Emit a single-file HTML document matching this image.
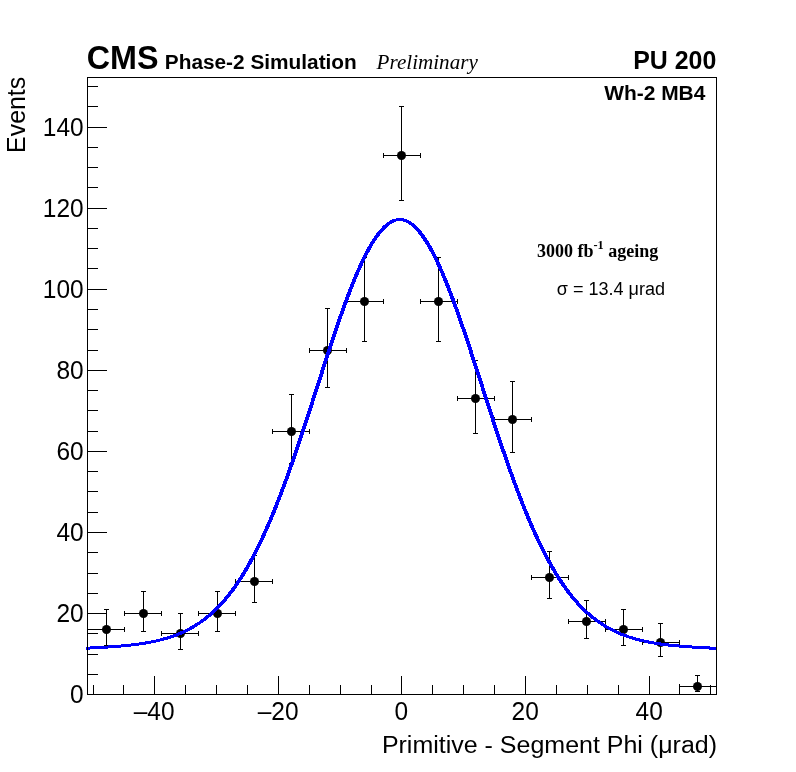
<!DOCTYPE html>
<html><head><meta charset="utf-8"><title>plot</title>
<style>html,body{margin:0;padding:0;background:#fff;}svg{display:block;will-change:transform;}text{font-family:"Liberation Sans",sans-serif;fill:#000;}</style>
</head><body>
<svg width="796" height="772" viewBox="0 0 796 772">
<rect x="0" y="0" width="796" height="772" fill="#ffffff"/>
<defs><clipPath id="fr"><rect x="86" y="78" width="631" height="617"/></clipPath></defs>
<g clip-path="url(#fr)">
<g stroke="#000" stroke-width="1" fill="none" shape-rendering="crispEdges">
<path d="M106.5 609.5V645.5M104.0 609.5H109.0M104.0 645.5H109.0M87.5 629.5H124.5M87.5 627.0V632.0M124.5 627.0V632.0"/>
<path d="M143.5 591.5V631.5M141.0 591.5H146.0M141.0 631.5H146.0M124.5 613.5H161.5M124.5 611.0V616.0M161.5 611.0V616.0"/>
<path d="M180.5 613.5V649.5M178.0 613.5H183.0M178.0 649.5H183.0M161.5 633.5H198.5M161.5 631.0V636.0M198.5 631.0V636.0"/>
<path d="M217.5 591.5V631.5M215.0 591.5H220.0M215.0 631.5H220.0M198.5 613.5H235.5M198.5 611.0V616.0M235.5 611.0V616.0"/>
<path d="M254.5 555.5V602.5M252.0 555.5H257.0M252.0 602.5H257.0M235.5 581.5H272.5M235.5 579.0V584.0M272.5 579.0V584.0"/>
<path d="M291.5 394.5V463.5M289.0 394.5H294.0M289.0 463.5H294.0M272.5 431.5H309.5M272.5 429.0V434.0M309.5 429.0V434.0"/>
<path d="M327.5 308.5V387.5M325.0 308.5H330.0M325.0 387.5H330.0M309.5 350.5H346.5M309.5 348.0V353.0M346.5 348.0V353.0"/>
<path d="M364.5 257.5V341.5M362.0 257.5H367.0M362.0 341.5H367.0M346.5 301.5H383.5M346.5 299.0V304.0M383.5 299.0V304.0"/>
<path d="M401.5 106.5V200.5M399.0 106.5H404.0M399.0 200.5H404.0M383.5 155.5H420.5M383.5 153.0V158.0M420.5 153.0V158.0"/>
<path d="M438.5 257.5V341.5M436.0 257.5H441.0M436.0 341.5H441.0M420.5 301.5H457.5M420.5 299.0V304.0M457.5 299.0V304.0"/>
<path d="M475.5 360.5V433.5M473.0 360.5H478.0M473.0 433.5H478.0M457.5 398.5H494.5M457.5 396.0V401.0M494.5 396.0V401.0"/>
<path d="M512.5 381.5V452.5M510.0 381.5H515.0M510.0 452.5H515.0M494.5 419.5H531.5M494.5 417.0V422.0M531.5 417.0V422.0"/>
<path d="M549.5 551.5V598.5M547.0 551.5H552.0M547.0 598.5H552.0M531.5 577.5H568.5M531.5 575.0V580.0M568.5 575.0V580.0"/>
<path d="M586.5 600.5V638.5M584.0 600.5H589.0M584.0 638.5H589.0M568.5 621.5H605.5M568.5 619.0V624.0M605.5 619.0V624.0"/>
<path d="M623.5 609.5V645.5M621.0 609.5H626.0M621.0 645.5H626.0M605.5 629.5H642.5M605.5 627.0V632.0M642.5 627.0V632.0"/>
<path d="M660.5 623.5V656.5M658.0 623.5H663.0M658.0 656.5H663.0M642.5 642.5H679.5M642.5 640.0V645.0M679.5 640.0V645.0"/>
<path d="M697.5 675.5V691.5M695.0 675.5H700.0M695.0 691.5H700.0M679.5 686.5H716.5M679.5 684.0V689.0M716.5 684.0V689.0"/>
</g>
<g fill="#000">
<circle cx="106.5" cy="629.5" r="4.5"/>
<circle cx="143.5" cy="613.5" r="4.5"/>
<circle cx="180.5" cy="633.5" r="4.5"/>
<circle cx="217.5" cy="613.5" r="4.5"/>
<circle cx="254.5" cy="581.5" r="4.5"/>
<circle cx="291.5" cy="431.5" r="4.5"/>
<circle cx="327.5" cy="350.5" r="4.5"/>
<circle cx="364.5" cy="301.5" r="4.5"/>
<circle cx="401.5" cy="155.5" r="4.5"/>
<circle cx="438.5" cy="301.5" r="4.5"/>
<circle cx="475.5" cy="398.5" r="4.5"/>
<circle cx="512.5" cy="419.5" r="4.5"/>
<circle cx="549.5" cy="577.5" r="4.5"/>
<circle cx="586.5" cy="621.5" r="4.5"/>
<circle cx="623.5" cy="629.5" r="4.5"/>
<circle cx="660.5" cy="642.5" r="4.5"/>
<circle cx="697.5" cy="686.5" r="4.5"/>
</g>
<g stroke="#0000ff" stroke-width="3" fill="none" stroke-linejoin="round" shape-rendering="crispEdges"><path d="M85.10 648.24 L88.18 648.09 L91.26 647.94 L94.35 647.79 L97.43 647.63 L100.51 647.46 L103.59 647.27 L106.68 647.08 L109.76 646.88 L112.84 646.66 L115.92 646.43 L119.01 646.18 L122.09 645.91 L125.17 645.62 L128.25 645.30 L131.34 644.96 L134.42 644.60 L137.50 644.20 L140.58 643.76 L143.67 643.29 L146.75 642.77 L149.83 642.22 L152.91 641.61 L156.00 640.94 L159.08 640.22 L162.16 639.44 L165.24 638.58 L168.33 637.66 L171.41 636.65 L174.49 635.56 L177.57 634.37 L180.66 633.09 L183.74 631.69 L186.82 630.19 L189.90 628.57 L192.99 626.82 L196.07 624.93 L199.15 622.90 L202.23 620.72 L205.32 618.38 L208.40 615.87 L211.48 613.18 L214.56 610.31 L217.65 607.25 L220.73 603.99 L223.81 600.53 L226.89 596.84 L229.98 592.94 L233.06 588.81 L236.14 584.44 L239.22 579.83 L242.31 574.97 L245.39 569.86 L248.47 564.50 L251.55 558.88 L254.64 553.01 L257.72 546.87 L260.80 540.47 L263.88 533.81 L266.97 526.89 L270.05 519.73 L273.13 512.31 L276.21 504.65 L279.30 496.75 L282.38 488.63 L285.46 480.30 L288.54 471.76 L291.63 463.03 L294.71 454.13 L297.79 445.07 L300.87 435.87 L303.96 426.55 L307.04 417.12 L310.12 407.62 L313.20 398.07 L316.29 388.49 L319.37 378.90 L322.45 369.34 L325.53 359.82 L328.62 350.39 L331.70 341.06 L334.78 331.87 L337.86 322.85 L340.95 314.02 L344.03 305.42 L347.11 297.08 L350.19 289.02 L353.28 281.29 L356.36 273.89 L359.44 266.87 L362.52 260.24 L365.61 254.04 L368.69 248.29 L371.77 243.01 L374.85 238.22 L377.94 233.94 L381.02 230.19 L384.10 226.98 L387.18 224.33 L390.27 222.24 L393.35 220.73 L396.43 219.81 L399.51 219.46 L402.60 219.71 L405.68 220.54 L408.76 221.95 L411.84 223.95 L414.93 226.50 L418.01 229.62 L421.09 233.29 L424.17 237.48 L427.26 242.19 L430.34 247.39 L433.42 253.06 L436.50 259.19 L439.59 265.75 L442.67 272.71 L445.75 280.04 L448.83 287.72 L451.92 295.73 L455.00 304.02 L458.08 312.58 L461.16 321.37 L464.25 330.37 L467.33 339.53 L470.41 348.84 L473.49 358.26 L476.58 367.76 L479.66 377.32 L482.74 386.90 L485.82 396.49 L488.91 406.05 L491.99 415.56 L495.07 425.00 L498.15 434.34 L501.24 443.56 L504.32 452.64 L507.40 461.57 L510.48 470.33 L513.57 478.90 L516.65 487.27 L519.73 495.43 L522.81 503.36 L525.90 511.06 L528.98 518.52 L532.06 525.73 L535.14 532.69 L538.23 539.39 L541.31 545.83 L544.39 552.01 L547.47 557.93 L550.56 563.59 L553.64 569.00 L556.72 574.14 L559.80 579.04 L562.89 583.69 L565.97 588.10 L569.05 592.27 L572.13 596.22 L575.22 599.93 L578.30 603.44 L581.38 606.73 L584.46 609.82 L587.55 612.72 L590.63 615.44 L593.71 617.97 L596.79 620.34 L599.88 622.55 L602.96 624.60 L606.04 626.51 L609.12 628.29 L612.21 629.93 L615.29 631.45 L618.37 632.86 L621.45 634.17 L624.54 635.37 L627.62 636.48 L630.70 637.50 L633.78 638.44 L636.87 639.30 L639.95 640.10 L643.03 640.83 L646.11 641.50 L649.20 642.12 L652.28 642.69 L655.36 643.21 L658.44 643.69 L661.53 644.13 L664.61 644.53 L667.69 644.90 L670.77 645.25 L673.86 645.57 L676.94 645.86 L680.02 646.13 L683.10 646.39 L686.19 646.62 L689.27 646.84 L692.35 647.05 L695.43 647.24 L698.52 647.43 L701.60 647.60 L704.68 647.76 L707.76 647.92 L710.85 648.07 L713.93 648.21 L717.01 648.35"/><path d="M85.14 648.24 L88.22 648.09 L91.31 647.94 L94.39 647.79 L97.48 647.63 L100.56 647.46 L103.65 647.27 L106.73 647.08 L109.82 646.88 L112.90 646.66 L115.99 646.43 L119.08 646.18 L122.17 645.91 L125.25 645.62 L128.34 645.30 L131.43 644.96 L134.52 644.60 L137.62 644.20 L140.71 643.76 L143.80 643.29 L146.90 642.77 L149.99 642.22 L153.09 641.61 L156.19 640.94 L159.29 640.22 L162.39 639.44 L165.49 638.58 L168.59 637.66 L171.70 636.65 L174.81 635.56 L177.91 634.37 L181.03 633.09 L184.14 631.69 L187.25 630.19 L190.37 628.57 L193.49 626.82 L196.61 624.93 L199.73 622.90 L202.86 620.72 L205.99 618.38 L209.11 615.87 L212.25 613.18 L215.38 610.31 L218.50 607.25 L221.58 603.99 L224.66 600.53 L227.74 596.84 L230.83 592.94 L233.91 588.81 L236.99 584.44 L240.07 579.83 L243.16 574.97 L246.24 569.86 L249.32 564.50 L252.40 558.88 L255.49 553.01 L258.57 546.87 L261.65 540.47 L264.73 533.81 L267.82 526.89 L270.90 519.73 L273.98 512.31 L277.06 504.65 L280.15 496.75 L283.23 488.63 L286.31 480.30 L289.39 471.76 L292.48 463.03 L295.56 454.13 L298.64 445.07 L301.72 435.87 L304.81 426.55 L307.89 417.12 L310.97 407.62 L314.05 398.07 L317.14 388.49 L320.22 378.90 L323.30 369.34 L326.38 359.82 L329.47 350.39 L332.55 341.06 L335.63 331.87 L338.71 322.85 L341.80 314.02 L344.88 305.42 L347.96 297.08 L351.04 289.02 L354.13 281.29 L357.21 273.89 L360.29 266.87 L363.37 260.24 L366.46 254.04 L369.54 248.29 L372.62 243.01 L375.70 238.22 L378.79 233.94 L381.87 230.19 L384.91 226.98 L387.84 224.33 L390.76 222.24 L393.69 220.73 L396.61 219.81 L399.53 219.46 L402.45 219.71 L405.37 220.54 L408.29 221.95 L411.22 223.95 L414.14 226.50 L417.16 229.62 L420.24 233.29 L423.32 237.48 L426.41 242.19 L429.49 247.39 L432.57 253.06 L435.65 259.19 L438.74 265.75 L441.82 272.71 L444.90 280.04 L447.98 287.72 L451.07 295.73 L454.15 304.02 L457.23 312.58 L460.31 321.37 L463.40 330.37 L466.48 339.53 L469.56 348.84 L472.64 358.26 L475.73 367.76 L478.81 377.32 L481.89 386.90 L484.97 396.49 L488.06 406.05 L491.14 415.56 L494.22 425.00 L497.30 434.34 L500.39 443.56 L503.47 452.64 L506.55 461.57 L509.63 470.33 L512.72 478.90 L515.80 487.27 L518.88 495.43 L521.96 503.36 L525.05 511.06 L528.13 518.52 L531.21 525.73 L534.29 532.69 L537.38 539.39 L540.46 545.83 L543.54 552.01 L546.62 557.93 L549.71 563.59 L552.79 569.00 L555.87 574.14 L558.95 579.04 L562.04 583.69 L565.12 588.10 L568.20 592.27 L571.28 596.22 L574.37 599.93 L577.45 603.44 L580.53 606.73 L583.64 609.82 L586.77 612.72 L589.90 615.44 L593.04 617.97 L596.16 620.34 L599.29 622.55 L602.41 624.60 L605.53 626.51 L608.65 628.29 L611.77 629.93 L614.88 631.45 L618.00 632.86 L621.11 634.17 L624.22 635.37 L627.33 636.48 L630.43 637.50 L633.54 638.44 L636.64 639.30 L639.74 640.10 L642.84 640.83 L645.94 641.50 L649.03 642.12 L652.13 642.69 L655.22 643.21 L658.32 643.69 L661.41 644.13 L664.50 644.53 L667.59 644.90 L670.68 645.25 L673.77 645.57 L676.86 645.86 L679.95 646.13 L683.04 646.39 L686.12 646.62 L689.21 646.84 L692.30 647.05 L695.38 647.24 L698.47 647.43 L701.55 647.60 L704.64 647.76 L707.72 647.92 L710.81 648.07 L713.89 648.21 L716.97 648.35"/></g>
</g>
<g stroke="#000" stroke-width="1" fill="none" shape-rendering="crispEdges">
<rect x="87.5" y="77.5" width="629.0" height="617.0"/>
<path d="M93.5 694.5V685.0M123.5 694.5V685.0M154.5 694.5V676.0M185.5 694.5V685.0M216.5 694.5V685.0M247.5 694.5V685.0M278.5 694.5V676.0M309.5 694.5V685.0M340.5 694.5V685.0M371.5 694.5V685.0M401.5 694.5V676.0M432.5 694.5V685.0M463.5 694.5V685.0M494.5 694.5V685.0M525.5 694.5V676.0M556.5 694.5V685.0M587.5 694.5V685.0M618.5 694.5V685.0M649.5 694.5V676.0M679.5 694.5V685.0M710.5 694.5V685.0M87.5 694.5H107.0M87.5 674.5H98.0M87.5 654.5H98.0M87.5 633.5H98.0M87.5 613.5H107.0M87.5 593.5H98.0M87.5 573.5H98.0M87.5 552.5H98.0M87.5 532.5H107.0M87.5 512.5H98.0M87.5 491.5H98.0M87.5 471.5H98.0M87.5 451.5H107.0M87.5 431.5H98.0M87.5 410.5H98.0M87.5 390.5H98.0M87.5 370.5H107.0M87.5 350.5H98.0M87.5 329.5H98.0M87.5 309.5H98.0M87.5 289.5H107.0M87.5 268.5H98.0M87.5 248.5H98.0M87.5 228.5H98.0M87.5 208.5H107.0M87.5 187.5H98.0M87.5 167.5H98.0M87.5 147.5H98.0M87.5 127.5H107.0M87.5 106.5H98.0M87.5 86.5H98.0"/>
</g>
<g font-size="24.5px">
<text transform="translate(83.7 703.1) scale(1 1.045)" text-anchor="end">0</text>
<text transform="translate(83.7 622.1) scale(1 1.045)" text-anchor="end">20</text>
<text transform="translate(83.7 541.1) scale(1 1.045)" text-anchor="end">40</text>
<text transform="translate(83.7 460.1) scale(1 1.045)" text-anchor="end">60</text>
<text transform="translate(83.7 379.1) scale(1 1.045)" text-anchor="end">80</text>
<text transform="translate(83.7 298.1) scale(1 1.045)" text-anchor="end">100</text>
<text transform="translate(83.7 217.1) scale(1 1.045)" text-anchor="end">120</text>
<text transform="translate(83.7 136.1) scale(1 1.045)" text-anchor="end">140</text>
<text transform="translate(154.1 720.3) scale(1 1.045)" text-anchor="middle">–40</text>
<text transform="translate(278.1 720.3) scale(1 1.045)" text-anchor="middle">–20</text>
<text transform="translate(401.2 720.3) scale(1 1.045)" text-anchor="middle">0</text>
<text transform="translate(525.2 720.3) scale(1 1.045)" text-anchor="middle">20</text>
<text transform="translate(649.2 720.3) scale(1 1.045)" text-anchor="middle">40</text>
</g>
<text transform="translate(717.0 752.8) scale(1 0.985)" text-anchor="end" font-size="25px">Primitive - Segment Phi (μrad)</text>
<text transform="translate(25.3 76.8) rotate(-90) scale(1 1.02)" text-anchor="end" font-size="24.9px">Events</text>
<text transform="translate(86.8 69) scale(1 1.02)" font-size="32.3px" font-weight="bold">CMS</text>
<text x="164.8" y="69" font-size="20.82px" font-weight="bold">Phase-2 Simulation</text>
<text x="376.6" y="68.6" font-size="21.1px" font-style="italic" style="font-family:'Liberation Serif',serif">Preliminary</text>
<text x="716.3" y="69.1" font-size="24.9px" font-weight="bold" text-anchor="end">PU 200</text>
<text x="705.4" y="99.8" font-size="20.95px" font-weight="bold" text-anchor="end">Wh-2 MB4</text>
<text x="537" y="256.7" font-size="18px" font-weight="bold" style="font-family:'Liberation Serif',serif">3000 fb<tspan font-size="12.3px" dy="-7.6">-1</tspan><tspan dy="7.6"> ageing</tspan></text>
<text x="556.8" y="295.4" font-size="18.05px">σ = 13.4 μrad</text>
</svg></body></html>
